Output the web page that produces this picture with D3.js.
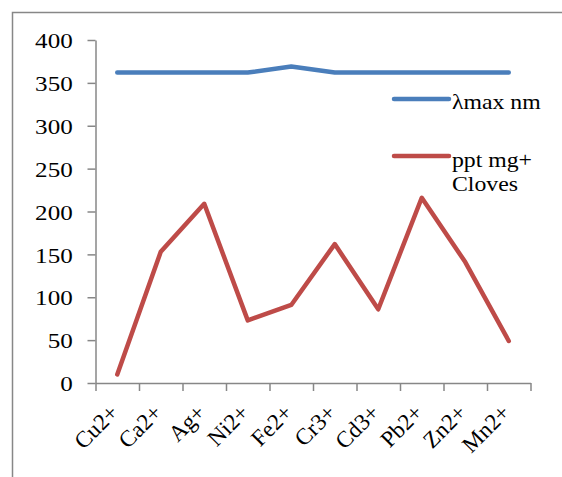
<!DOCTYPE html>
<html>
<head>
<meta charset="utf-8">
</head>
<body style="margin:0;background:white">
<script src="https://d3js.org/d3.v7.min.js"></script>
<script>

// data
var ions = ["Cu2+", "Ca2+", "Ag+", "Ni2+", "Fe2+", "Cr3+", "Cd3+", "Pb2+", "Zn2+", "Mn2+"];
var lambdaMax = [362, 362, 362, 362, 369, 362, 362, 362, 362, 362];
var pptCloves = [10, 153, 209, 73, 91, 162, 86, 216, 141, 49];
var yTicks = [0, 50, 100, 150, 200, 250, 300, 350, 400];
var seriesNames = ["\u03bbmax nm", "ppt mg+ Cloves"];
var seriesColors = ["#4a7ebb", "#be4b48"];

var width = 562, height = 477;
var fontSize = 22;
var stretch = 1.14;   // the original picture is a bit wider than tall
var axisGray = "#878787";

var svg = d3.select("body").append("svg")
    .attr("width", width)
    .attr("height", height)
    .attr("font-family", "Liberation Serif")
    .attr("font-size", fontSize)
    .style("display", "block");

// outer chart frame (cut off at right and bottom)
svg.append("rect")
    .attr("x", 12.5)
    .attr("y", 12.5)
    .attr("width", 700)
    .attr("height", 700)
    .attr("fill", "none")
    .attr("stroke", axisGray)
    .attr("stroke-width", 1.5);

var x0 = 95.5, x1 = 530.5, yTop = 40, yBot = 383;

var x = d3.scaleBand()
    .domain(ions)
    .range([x0, x1])
    .paddingInner(0)
    .paddingOuter(0);

var xEdges = d3.scaleLinear()
    .domain([0, ions.length])
    .range([x0, x1]);

var y = d3.scaleLinear()
    .domain([0, 400])
    .range([yBot, yTop]);

// y axis
var yAxis = svg.append("g")
    .attr("transform", "translate(" + x0 + ",0)")
    .call(d3.axisLeft(y).tickValues(yTicks).tickSize(8).tickSizeOuter(0).tickPadding(12));

yAxis.attr("font-family", "Liberation Serif").attr("font-size", fontSize);
yAxis.selectAll("text")
    .attr("fill", "black")
    .attr("dy", "0.35em")
    .attr("transform", "scale(" + stretch + ",1)");

yAxis.selectAll("path, line").attr("stroke", axisGray).attr("stroke-width", 1.5);

// x axis: ticks at category edges
var xAxis = svg.append("g")
    .attr("transform", "translate(0," + yBot + ")")
    .call(d3.axisBottom(xEdges).tickValues(d3.range(ions.length + 1)).tickSize(8).tickSizeOuter(0).tickFormat(""));

xAxis.selectAll("path, line").attr("stroke", axisGray).attr("stroke-width", 1.5);

// category labels rotated
svg.append("g")
    .attr("font-family", "Liberation Serif")
    .attr("font-size", 23)
    .selectAll("text")
    .data(ions)
    .enter()
    .append("text")
    .attr("transform", function(d) {
      return "translate(" + (x(d) + x.bandwidth() / 2 + 2.5) + "," + (yBot + 31) + ") rotate(-45)";
    })
    .attr("text-anchor", "end")
    .text(function(d) { return d; });

// lines
var line = d3.line()
    .x(function(d, i) { return x(ions[i]) + x.bandwidth() / 2; })
    .y(function(d) { return y(d); });

[lambdaMax, pptCloves].forEach(function(s, i) {
  svg.append("path")
    .datum(s)
    .attr("d", line)
    .attr("fill", "none")
    .attr("stroke", seriesColors[i])
    .attr("stroke-width", 4.5)
    .attr("stroke-linejoin", "round")
    .attr("stroke-linecap", "round");
});

// legend
var legend = svg.append("g")
    .attr("font-family", "Liberation Serif")
    .attr("font-size", fontSize);
var legendY = [99, 156];

legend.selectAll("line")
    .data(seriesNames)
    .enter()
    .append("line")
    .attr("x1", 394)
    .attr("x2", 449)
    .attr("y1", function(d, i) { return legendY[i]; })
    .attr("y2", function(d, i) { return legendY[i]; })
    .attr("stroke", function(d, i) { return seriesColors[i]; })
    .attr("stroke-width", 4.5)
    .attr("stroke-linecap", "round");

legend.append("text")
    .attr("transform", "translate(452,109) scale(1.08,1)")
    .text(seriesNames[0]);

var t2 = legend.append("text")
    .attr("transform", "translate(452,167) scale(1.08,1)");
t2.append("tspan").attr("x", 0).text("ppt mg+");
t2.append("tspan").attr("x", 0).attr("dy", 24).text("Cloves");

</script>
</body>
</html>
